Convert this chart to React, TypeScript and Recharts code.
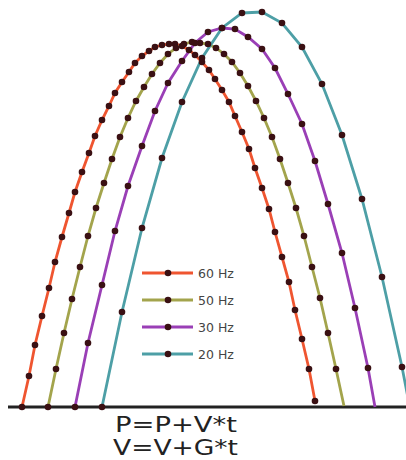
import React from "react";
import { LineChart, Line, XAxis, YAxis, ReferenceLine, Customized } from "recharts";

// Horizontal positions (px units) and heights above the ground line
const x60 = [22,29,35,42,49,55,62,69,75,82,89,95,102,109,115,122,129,135,142,149,155,162,169,175,182,189,195,202,209,215,222,229,235,242,249,255,262,269,275,282,289,295,302,309,315];
const h60 = [0,31,62,91,119,145,170,194,215,235,254,271,287,301,314,325,335,344,351,356,360,362,363,363,361,357,352,345,337,328,317,305,291,275,258,239,219,198,175,150,125,97,68,38,6];

const x50 = [48,56,64,72,80,88,96,104,112,120,128,136,144,152,160,168,176,184,192,200,208,216,224,232,240,248,256,264,272,280,288,296,304,312,320,328,336,344];
const h50 = [0,38,74,108,140,171,199,224,248,270,289,306,320,333,344,353,359,363,365,364,363,359,353,345,334,321,306,289,270,248,224,199,171,140,109,74,38,1];

const x30 = [75,88,102,115,128,142,155,168,182,195,208,222,235,248,262,275,288,302,315,328,342,355,368,375];
const h30 = [0,64,122,176,221,261,296,324,346,364,375,379,378,370,358,339,313,283,246,203,154,99,39,0];

const x20 = [102,122,142,162,182,202,222,242,262,282,302,322,342,362,382,402,422];
const h20 = [0,95,179,249,305,349,379,394,395,384,360,323,272,208,130,40,-63];

const seriesNames = ["60 Hz", "50 Hz", "30 Hz", "20 Hz"];
const seriesColors = ["#ef5530", "#a3a44c", "#9a3fb6", "#4d9fa6"];
const formulaLines = ["P=P+V*t", "V=V+G*t"];

const build = (xs: number[], hs: number[], lastDot: boolean) =>
  xs.map((x, i) => ({ x, h: hs[i], dot: lastDot || i < xs.length - 1 }));

const series = [
  build(x60, h60, true),
  build(x50, h50, false),
  build(x30, h30, false),
  build(x20, h20, true),
];

const DOT = "#3a1013";

const renderDot = (props: any) => {
  const { cx, cy, payload, index } = props;
  if (!payload || !payload.dot || cx == null || cy == null) return <g key={"n" + index} />;
  return <circle key={"d" + index} cx={cx} cy={cy} r={3.3} fill={DOT} />;
};

const LegendAndFormula = () => (
  <g>
    <g transform="translate(142,260)">
      {seriesNames.map((name, i) => {
        const cy = 13 + i * 27;
        return (
          <g key={name}>
            <line x1={0} x2={51} y1={cy} y2={cy} stroke={seriesColors[i]} strokeWidth={3} />
            <circle cx={26} cy={cy} r={3.3} fill={DOT} />
            <text x={56} y={cy + 4.5} fontSize={12.5} fontFamily="DejaVu Sans" fill="#444">
              {name}
            </text>
          </g>
        );
      })}
    </g>
    <text x={115} y={432} fontSize={22} fontFamily="DejaVu Sans" fill="#222" textLength={122} lengthAdjust="spacingAndGlyphs">
      {formulaLines[0]}
    </text>
    <text x={113} y={455} fontSize={22} fontFamily="DejaVu Sans" fill="#222" textLength={125} lengthAdjust="spacingAndGlyphs">
      {formulaLines[1]}
    </text>
  </g>
);

export default function App() {
  return (
    <div style={{ position: "absolute", left: 0, top: 0, width: 406, height: 460, background: "#fff" }}>
      <LineChart width={406} height={460} margin={{ top: 0, right: 0, bottom: 0, left: 0 }}>
        <XAxis type="number" dataKey="x" domain={[0, 406]} hide allowDataOverflow />
        <YAxis type="number" dataKey="h" domain={[-53, 407]} hide allowDataOverflow />
        <ReferenceLine segment={[{ x: 8, y: 0 }, { x: 406, y: 0 }]} stroke="#222" strokeWidth={3} ifOverflow="visible" />
        {series.map((data, i) => (
          <Line
            key={seriesNames[i]}
            data={data}
            dataKey="h"
            name={seriesNames[i]}
            type="linear"
            stroke={seriesColors[i]}
            strokeWidth={2.8}
            dot={renderDot}
            activeDot={false}
            isAnimationActive={false}
          />
        ))}
        <Customized component={LegendAndFormula} />
      </LineChart>
    </div>
  );
}
